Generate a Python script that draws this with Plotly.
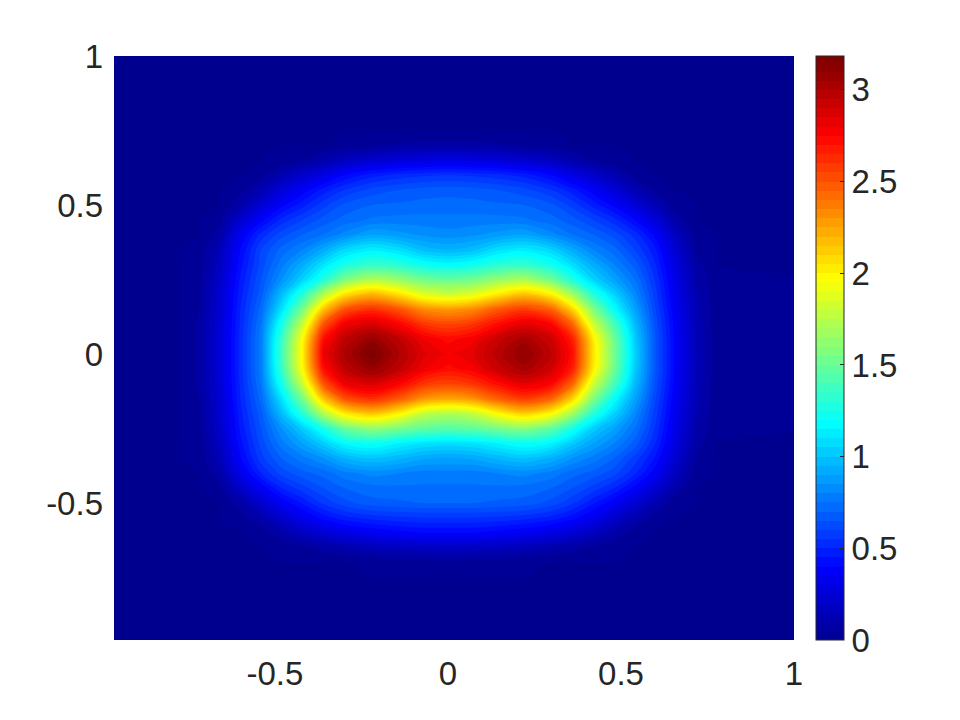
# Two-lobed density map, contourf look with a jet colour scale

import plotly.graph_objects as go

x_vals = [-0.965, -0.78, -0.72, -0.66, -0.6, -0.54, -0.48, -0.42, -0.36, -0.3, -0.22, -0.14, -0.07, 0,
          0.07, 0.14, 0.22, 0.3, 0.36, 0.42, 0.48, 0.54, 0.6, 0.66, 0.72, 0.78, 1]
y_vals = [-0.96, -0.75, -0.7, -0.65, -0.6, -0.55, -0.5, -0.45, -0.4, -0.35, -0.3, -0.25, -0.2, -0.15, -0.1, -0.05,
          0, 0.05, 0.1, 0.15, 0.2, 0.25, 0.3, 0.35, 0.4, 0.45, 0.5, 0.55, 0.6, 0.65, 0.7, 0.75, 1]

z_vals = [
    [0] * 27,
    [0] * 27,
    [0, 0, 0, 0, 0, 0, 0, 0, 0, 0, .01, .02, .03, .03, .03, .02, .01, 0, 0, 0, 0, 0, 0, 0, 0, 0, 0],
    [0, 0, 0, 0, 0, 0, .01, .04, .07, .1, .14, .16, .18, .18, .18, .16, .14, .1, .07, .04, .01, 0, 0, 0, 0, 0, 0],
    [0, 0, 0, 0, 0, .02, .09, .17, .24, .3, .35, .38, .4, .4, .4, .38, .35, .3, .24, .17, .09, .02, 0, 0, 0, 0, 0],
    [0, 0, 0, 0, .02, .1, .22, .33, .42, .48, .52, .54, .55, .55, .55, .54, .52, .48, .42, .33, .22, .11, .03, 0, 0, 0, 0],
    [0, 0, 0, 0, .08, .22, .36, .46, .56, .63, .68, .69, .7, .7, .7, .69, .68, .63, .56, .46, .36, .24, .11, .02, 0, 0, 0],
    [0, 0, 0, .03, .2, .36, .5, .58, .65, .7, .73, .74, .74, .74, .74, .74, .73, .7, .65, .58, .5, .38, .24, .08, 0, 0, 0],
    [0, 0, 0, .08, .32, .5, .62, .68, .72, .78, .82, .8, .78, .78, .78, .8, .82, .78, .72, .68, .62, .51, .36, .16, .02, 0, 0],
    [0, 0, .01, .14, .39, .58, .7, .78, .85, .95, 1.0, .96, .91, .9, .91, .96, 1.0, .94, .85, .78, .7, .58, .44, .22, .04, 0, 0],
    [0, 0, .02, .17, .43, .62, .78, .9, 1.03, 1.17, 1.22, 1.15, 1.1, 1.08, 1.1, 1.15, 1.21, 1.15, 1.02, .9, .8, .68, .5, .27, .07, 0, 0],
    [0, 0, .03, .2, .46, .65, .85, 1.03, 1.25, 1.5, 1.62, 1.55, 1.48, 1.45, 1.48, 1.54, 1.6, 1.47, 1.25, 1.03, .9, .75, .54, .3, .09, .01, 0],
    [0, 0, .04, .22, .48, .68, .98, 1.3, 1.72, 2.02, 2.15, 2.0, 1.78, 1.72, 1.78, 1.97, 2.12, 1.97, 1.68, 1.3, 1.05, .82, .57, .32, .11, .01, 0],
    [0, 0, .05, .23, .5, .72, 1.1, 1.55, 2.15, 2.5, 2.62, 2.48, 2.3, 2.25, 2.3, 2.46, 2.58, 2.45, 2.1, 1.58, 1.2, .9, .6, .34, .12, .01, 0],
    [0, 0, .06, .24, .51, .76, 1.25, 1.8, 2.5, 2.8, 2.88, 2.76, 2.6, 2.55, 2.6, 2.72, 2.84, 2.75, 2.45, 1.82, 1.4, .98, .63, .36, .13, .01, 0],
    [0, 0, .06, .25, .52, .78, 1.35, 1.97, 2.72, 2.95, 3.08, 2.95, 2.8, 2.73, 2.78, 2.92, 3.03, 2.9, 2.67, 2.02, 1.52, 1.03, .65, .37, .14, .01, 0],
    [0, 0, .06, .25, .52, .78, 1.38, 2.0, 2.8, 3.0, 3.18, 3.0, 2.86, 2.8, 2.84, 2.97, 3.1, 2.95, 2.72, 2.05, 1.55, 1.05, .65, .37, .14, .01, 0],
    [0, 0, .06, .25, .52, .78, 1.35, 1.97, 2.72, 2.95, 3.08, 2.95, 2.8, 2.73, 2.78, 2.92, 3.03, 2.9, 2.67, 2.02, 1.52, 1.03, .65, .37, .14, .01, 0],
    [0, 0, .06, .24, .51, .76, 1.25, 1.8, 2.5, 2.8, 2.88, 2.76, 2.6, 2.55, 2.6, 2.72, 2.84, 2.75, 2.45, 1.82, 1.4, .98, .63, .36, .13, .01, 0],
    [0, 0, .05, .23, .5, .72, 1.1, 1.55, 2.15, 2.5, 2.62, 2.5, 2.33, 2.28, 2.33, 2.48, 2.58, 2.45, 2.1, 1.58, 1.2, .9, .6, .34, .12, .01, 0],
    [0, 0, .04, .22, .48, .68, .98, 1.3, 1.72, 2.05, 2.2, 2.06, 1.88, 1.82, 1.88, 2.03, 2.16, 2.0, 1.68, 1.3, 1.05, .82, .57, .32, .11, .01, 0],
    [0, 0, .03, .2, .46, .65, .85, 1.05, 1.28, 1.55, 1.72, 1.64, 1.53, 1.5, 1.53, 1.63, 1.7, 1.52, 1.28, 1.05, .9, .75, .54, .3, .09, .01, 0],
    [0, 0, .02, .17, .43, .62, .78, .93, 1.1, 1.25, 1.34, 1.3, 1.22, 1.18, 1.22, 1.3, 1.33, 1.23, 1.08, .93, .8, .68, .5, .27, .07, 0, 0],
    [0, 0, .01, .14, .4, .6, .72, .8, .92, 1.06, 1.14, 1.08, .98, .95, .98, 1.08, 1.13, 1.05, .92, .8, .72, .6, .46, .22, .04, 0, 0],
    [0, 0, 0, .08, .34, .52, .63, .7, .75, .82, .9, .87, .84, .82, .84, .87, .9, .82, .75, .7, .63, .53, .38, .16, .02, 0, 0],
    [0, 0, 0, .03, .22, .38, .52, .6, .67, .72, .76, .77, .77, .77, .77, .77, .76, .72, .67, .6, .52, .4, .26, .08, 0, 0, 0],
    [0, 0, 0, 0, .1, .24, .38, .48, .58, .66, .7, .71, .72, .72, .72, .71, .7, .66, .58, .48, .38, .26, .13, .02, 0, 0, 0],
    [0, 0, 0, 0, .03, .12, .26, .37, .47, .55, .62, .65, .67, .68, .67, .65, .62, .55, .47, .37, .26, .13, .04, 0, 0, 0, 0],
    [0, 0, 0, 0, 0, .03, .12, .21, .3, .4, .48, .52, .54, .55, .54, .52, .48, .4, .3, .21, .12, .03, 0, 0, 0, 0, 0],
    [0, 0, 0, 0, 0, 0, .01, .05, .1, .17, .22, .26, .28, .3, .28, .26, .22, .17, .1, .05, .01, 0, 0, 0, 0, 0, 0],
    [0, 0, 0, 0, 0, 0, 0, 0, 0, .02, .04, .06, .07, .07, .07, .06, .04, .02, 0, 0, 0, 0, 0, 0, 0, 0, 0],
    [0] * 27,
    [0] * 27,
]

x_ticks = [-0.5, 0, 0.5, 1]
x_labels = ["-0.5", "0", "0.5", "1"]
y_ticks = [-0.5, 0, 0.5, 1]
y_labels = ["-0.5", "0", "0.5", "1"]
bar_ticks = [0, 0.5, 1, 1.5, 2, 2.5, 3]
bar_labels = ["0", "0.5", "1", "1.5", "2", "2.5", "3"]

jet = [
    [0, "#00008F"],
    [0.125, "#0000FF"],
    [0.375, "#00FFFF"],
    [0.625, "#FFFF00"],
    [0.875, "#FF0000"],
    [1, "#800000"],
]

fig = go.Figure()

fig.add_trace(go.Contour(
    x=x_vals,
    y=y_vals,
    z=z_vals,
    zmin=0,
    zmax=3.185,
    colorscale=jet,
    contours=dict(start=0, end=3.15, size=0.05, coloring="fill", showlines=False),
    line=dict(width=0),
    colorbar=dict(
        x=1.0324,
        xanchor="left",
        xpad=0,
        ypad=0,
        len=1,
        thickness=28,
        outlinecolor="#262626",
        outlinewidth=1,
        tickmode="array",
        tickvals=bar_ticks,
        ticktext=bar_labels,
        ticks="inside",
        ticklen=4,
        tickcolor="#262626",
        tickfont=dict(family="Liberation Sans", size=33, color="#262626"),
    ),
))

fig.update_layout(
    width=952,
    height=712,
    paper_bgcolor="white",
    plot_bgcolor="#00008F",
    margin=dict(t=48, b=80, l=106, r=166),
    font=dict(family="Liberation Sans", color="#262626"),
    xaxis=dict(
        range=[-0.965, 1],
        tickmode="array",
        tickvals=x_ticks,
        ticktext=x_labels,
        ticks="",
        ticklabelstandoff=11,
        showgrid=False,
        zeroline=False,
        showline=False,
        tickfont=dict(size=33, color="#262626"),
    ),
    yaxis=dict(
        range=[-0.96, 1],
        tickmode="array",
        tickvals=y_ticks,
        ticktext=y_labels,
        ticks="",
        ticklabelstandoff=10,
        showgrid=False,
        zeroline=False,
        showline=False,
        tickfont=dict(size=33, color="#262626"),
    ),
)

fig.write_html("out.html")
